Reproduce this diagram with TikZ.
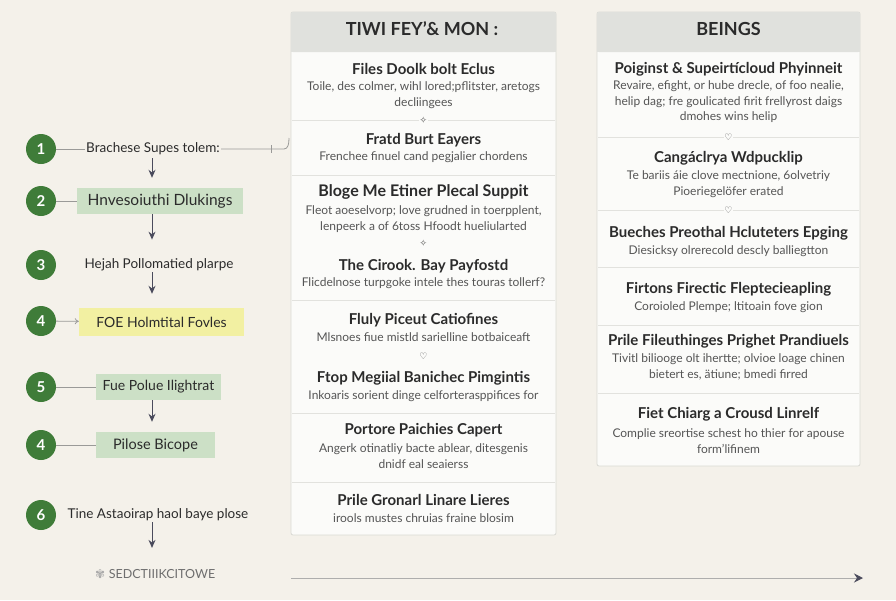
\documentclass[tikz,border=0pt]{standalone}
\usepackage{fontspec}
\setmainfont{Lato}
\newfontfamily\symfont{DejaVu Sans}
\usetikzlibrary{arrows.meta,calc}
\definecolor{bg}{HTML}{F4F1EA}
\definecolor{panelfill}{HTML}{FBFBF9}
\definecolor{panelline}{HTML}{D9D9D4}
\definecolor{hdrfill}{HTML}{E0E1DD}
\definecolor{divline}{HTML}{E2E2DE}
\definecolor{circgreen}{HTML}{3F7C39}
\definecolor{boxgreen}{HTML}{CCE0C6}
\definecolor{boxyellow}{HTML}{F2F0A2}
\definecolor{arrowdark}{HTML}{4A4B5C}
\definecolor{titlecol}{HTML}{2B2B2B}
\definecolor{desccol}{HTML}{555555}
\definecolor{linegray}{HTML}{9A9A98}
\tikzset{
  panel/.style={fill=panelfill, draw=panelline, line width=0.8pt},
  hdr/.style={fill=hdrfill},
  divider/.style={draw=divline, line width=0.8pt},
  hdrtext/.style={font=\fontsize{18}{20}\selectfont\bfseries, text=titlecol},
  ttl/.style={font=\fontsize{15}{17}\selectfont\bfseries, text=titlecol, inner sep=0pt},
  dsc/.style={font=\fontsize{12}{15.5}\selectfont, text=desccol, align=center, inner sep=0pt},
  orn/.style={font=\symfont\fontsize{9}{9}\selectfont, text=desccol, inner sep=0.5pt},
  numcirc/.style={circle, fill=circgreen, minimum size=30pt, inner sep=0pt, text=white, font=\fontsize{15}{15}\selectfont\bfseries},
  lefttext/.style={font=\fontsize{13.5}{15}\selectfont, text=titlecol, inner sep=1pt},
  gbox/.style={fill=boxgreen, minimum height=26pt, inner sep=0pt, font=\fontsize{14}{15}\selectfont, text=titlecol},
  ybox/.style={fill=boxyellow, minimum height=28pt, inner sep=0pt, font=\fontsize{14}{15}\selectfont, text=titlecol},
  flowarrow/.style={draw=arrowdark, line width=1pt, -{Stealth[length=8pt,width=7pt]}},
  thinline/.style={draw=linegray, line width=0.8pt},
}
\begin{document}
\begin{tikzpicture}[x=1pt,y=-1pt]
\fill[bg] (0,0) rectangle (896,600);
\useasboundingbox (0,0) rectangle (896,600);

% ---------------- middle panel
\filldraw[panel, rounded corners=2pt] (291,12) rectangle (556,535);
\fill[hdr, rounded corners=2pt] (291,12) rectangle (556,52);
\fill[hdr] (291,30) rectangle (556,52);
\node[hdrtext] (mh) at (422,29) {TIWI FEY'\& MON :};
\foreach \yy in {120,175,300,413,482} \draw[divider] (292,\yy) -- (555,\yy);

\node[ttl] (m1t) at (423.5,69) {Files Doolk bolt Eclus};
\node[dsc] (m1d) at (423.5,95) {Toile, des colmer, wihl lored;pflitster, aretogs\\decliingees};
\node[orn, fill=panelfill] (m1o) at (423.5,120) {✧};
\node[ttl] (m2t) at (423.5,140) {Fratd Burt Eayers};
\node[dsc] (m2d) at (423.5,157) {Frenchee finuel cand pegjalier chordens};
\node[ttl, font=\fontsize{16}{18}\selectfont\bfseries] (m3t) at (423.5,192) {Bloge Me Etiner Plecal Suppit};
\node[dsc] (m3d) at (423.5,219) {Fleot aoeselvorp; love grudned in toerpplent,\\lenpeerk a of 6toss Hfoodt hueliularted};
\node[orn] (m3o) at (423.5,243) {✧};
\node[ttl] (m3t2) at (423.5,266) {The Cirook. Bay Payfostd};
\node[dsc] (m3d2) at (423.5,283) {Flicdelnose turpgoke intele thes touras tollerf?};
\node[ttl] (m4t) at (423.5,320) {Fluly Piceut Catiofines};
\node[dsc] (m4d) at (423.5,337) {Mlsnoes fiue mistld sarielline botbaiceaft};
\node[orn] (m4o) at (423.5,356) {♡};
\node[ttl] (m4t2) at (423.5,378) {Ftop Megiial Banichec Pimgintis};
\node[dsc] (m4d2) at (423.5,396) {Inkoaris sorient dinge celforterasppifices for};
\node[ttl] (m5t) at (423.5,430) {Portore Paichies Capert};
\node[dsc] (m5d) at (423.5,456) {Angerk otinatliy bacte ablear, ditesgenis\\dnidf eal seaierss};
\node[ttl] (m6t) at (423.5,500) {Prile Gronarl Linare Lieres};
\node[dsc] (m6d) at (423.5,518) {irools mustes chruias fraine blosim};

% ---------------- right panel
\filldraw[panel, rounded corners=2pt] (597,12) rectangle (860,466);
\fill[hdr, rounded corners=2pt] (597,12) rectangle (860,52);
\fill[hdr] (597,30) rectangle (860,52);
\node[hdrtext] (rh) at (728.5,29) {BEINGS};
\foreach \yy in {137,210,267,325,393} \draw[divider] (598,\yy) -- (859,\yy);

\node[ttl] (r1t) at (728.5,69) {Poiginst \& Supeirt\'icloud Phyinneit};
\node[dsc] (r1d) at (728.5,102) {Revaire, efight, or hube drecle, of foo nealie,\\helip dag; fre goulicated firit frellyrost daigs\\dmohes wins helip};
\node[orn, fill=panelfill] (r1o) at (728.5,137) {♡};
\node[ttl] (r2t) at (728.5,158) {Cangáclrya Wdpucklip};
\node[dsc] (r2d) at (728.5,184) {Te bariis áie clove mectnione, 6olvetriy\\Pioeriegelöfer erated};
\node[orn, fill=panelfill] (r2o) at (728.5,210) {♡};
\node[ttl] (r3t) at (728.5,233) {Bueches Preothal Hcluteters Epging};
\node[dsc] (r3d) at (728.5,251) {Diesicksy olrerecold descly balliegtton};
\node[ttl] (r4t) at (728.5,289) {Firtons Firectic Fleptecieapling};
\node[dsc] (r4d) at (728.5,307) {Coroioled Plempe; ltitoain fove gion};
\node[ttl] (r5t) at (728.5,341) {Prile Fileuthinges Prighet Prandiuels};
\node[dsc] (r5d) at (728.5,367) {Tivitl biliooge olt ihertte; olvioe loage chinen\\bietert es, ätiune; bmedi firred};
\node[ttl] (r6t) at (728.5,414) {Fiet Chiarg a Crousd Linrelf};
\node[dsc] (r6d) at (728.5,441) {Complie sreortise schest ho thier for apouse\\form'lifinem};

% ---------------- left flow
\coordinate (colx) at (152,0);
\node[numcirc] (c1) at (41,149) {1};
\node[numcirc] (c2) at (41,201) {2};
\node[numcirc] (c3) at (41,265) {3};
\node[numcirc] (c4) at (41,321) {4};
\node[numcirc] (c5) at (41,387) {5};
\node[numcirc] (c4b) at (41,445) {4};
\node[numcirc] (c6) at (41,515) {6};

\node[lefttext] (t1) at (153,149) {Brachese Supes tolem:};
\node[gbox, minimum width=166pt, font=\fontsize{15.5}{16}\selectfont] (b2) at (160,201) {Hnvesoiuthi Dlukings};
\node[lefttext] (t3) at (159,265) {Hejah Pollomatied plarpe};
\node[ybox, minimum width=165pt] (b4) at (161.5,322) {FOE Holmtital Fovles};
\node[gbox, minimum width=125pt] (b5) at (158.5,387) {Fue Polue Ilightrat};
\node[gbox, minimum width=119pt, font=\fontsize{14.5}{15}\selectfont] (b6) at (155.5,445) {Pilose Bicope};
\node[lefttext] (t6) at (158,515) {Tine Astaoirap haol baye plose};
\node[font=\fontsize{12.5}{13}\selectfont, text=desccol!85] (logo) at (162,574) {SEDCTIIIKCITOWE};
\node[font=\symfont\fontsize{12}{12}\selectfont, text=desccol!50, inner sep=0pt, anchor=east] (logoicon) at (logo.west) {✾};

% connectors circle -> item
\draw[thinline] (c1) -- (t1);
\draw[thinline] (c2) -- (b2);
\draw[thinline, -{To[length=4pt,width=6pt]}] (c4) -- (b4);
\draw[thinline] (c5) -- (b5);
\draw[thinline] (c4b) -- (b6);

% line from step 1 toward the middle panel
\coordinate (p1end) at (284,149);
\draw[thinline] (t1.east) -- (p1end) .. controls (288,149) and (289,144) .. (289,138);
\coordinate (tick) at (271,149);
\draw[thinline] ($(tick)+(0,-4)$) -- ($(tick)+(0,4)$);

% down arrows
\draw[flowarrow, shorten <=2pt, shorten >=10pt] (t1.south -| colx) -- (b2.north -| colx);
\draw[flowarrow, shorten >=18pt] (b2.south -| colx) -- (t3.north -| colx);
\draw[flowarrow, shorten <=0pt, shorten >=14pt] (t3.south -| colx) -- (b4.north -| colx);
\draw[flowarrow, shorten >=10pt] (b5.south -| colx) -- (b6.north -| colx);
\draw[flowarrow, shorten >=18pt] (t6.south -| colx) -- (logo.north -| colx);

% bottom timeline arrow
\coordinate (ts) at (291,578);
\coordinate (te) at (863,578);
\draw[draw=linegray!80, line width=1pt, -{Stealth[length=9pt,width=9pt,inset=3pt,fill=arrowdark,color=arrowdark]}] (ts) -- (te);
\end{tikzpicture}
\end{document}
